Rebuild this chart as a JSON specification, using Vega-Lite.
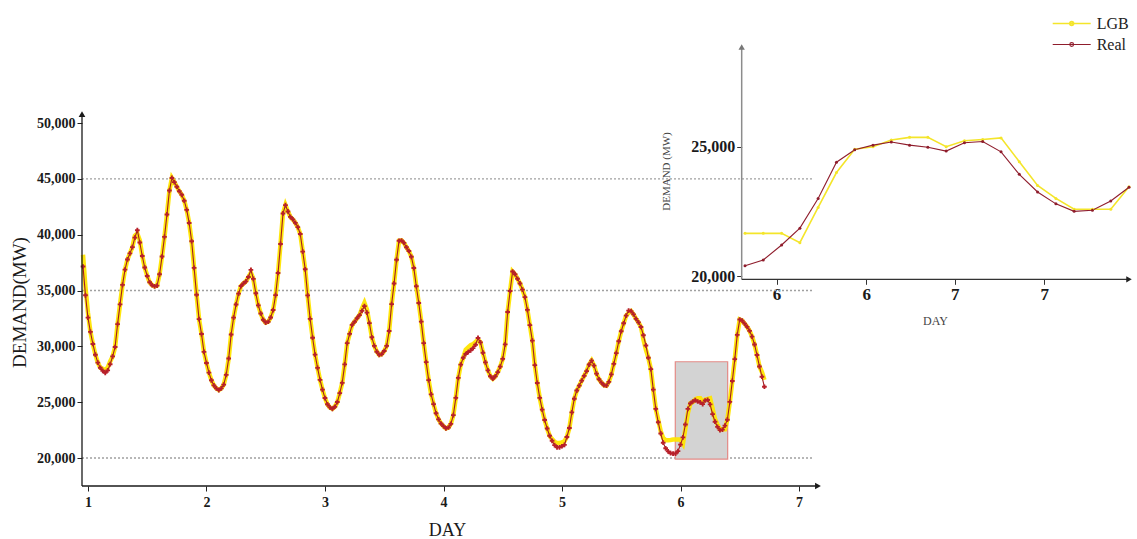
{
"$schema":"https://vega.github.io/schema/vega-lite/v6.json",
"width":1050,"height":444,
"autosize":{"type":"none"},
"padding":{"left":82,"top":42,"right":5,"bottom":53},
"background":"#ffffff",
"config":{"view":{"stroke":null},"font":"Liberation Serif","axis":{"labelFont":"Liberation Serif","titleFont":"Liberation Serif"},"legend":{"labelFont":"Liberation Serif"}},
"data":{"values":[
{"t":0.958,"Real":37150,"LGB":38200},{"t":0.9788,"Real":34570,"LGB":35300},{"t":0.9997,"Real":32570,"LGB":33000},{"t":1.0205,"Real":31300,"LGB":31300},{"t":1.0413,"Real":30210,"LGB":30210},{"t":1.0622,"Real":29250,"LGB":29250},{"t":1.083,"Real":28540,"LGB":28540},{"t":1.1038,"Real":28080,"LGB":28080},{"t":1.1247,"Real":27810,"LGB":28000},{"t":1.1455,"Real":27620,"LGB":27850},{"t":1.1663,"Real":27850,"LGB":28100},{"t":1.1872,"Real":28400,"LGB":28650},
{"t":1.208,"Real":29100,"LGB":29100},{"t":1.2288,"Real":29940,"LGB":29940},{"t":1.2497,"Real":31990,"LGB":31990},{"t":1.2705,"Real":33760,"LGB":33760},{"t":1.2913,"Real":35500,"LGB":35500},{"t":1.3122,"Real":36870,"LGB":36870},{"t":1.333,"Real":37780,"LGB":37780},{"t":1.3538,"Real":38320,"LGB":38320},{"t":1.3747,"Real":38880,"LGB":38880},{"t":1.3955,"Real":39740,"LGB":39900},{"t":1.4163,"Real":40400,"LGB":40100},{"t":1.4372,"Real":39300,"LGB":39500},
{"t":1.458,"Real":38090,"LGB":38090},{"t":1.4788,"Real":37060,"LGB":37060},{"t":1.4997,"Real":36300,"LGB":36300},{"t":1.5205,"Real":35740,"LGB":35740},{"t":1.5413,"Real":35470,"LGB":35470},{"t":1.5622,"Real":35370,"LGB":35370},{"t":1.583,"Real":35440,"LGB":35440},{"t":1.6038,"Real":36450,"LGB":36450},{"t":1.6247,"Real":38040,"LGB":38040},{"t":1.6455,"Real":39800,"LGB":39800},{"t":1.6663,"Real":41810,"LGB":41810},{"t":1.6872,"Real":43950,"LGB":43950},
{"t":1.708,"Real":45080,"LGB":45080},{"t":1.7288,"Real":44710,"LGB":44710},{"t":1.7497,"Real":44290,"LGB":44290},{"t":1.7705,"Real":43890,"LGB":43890},{"t":1.7913,"Real":43570,"LGB":43570},{"t":1.8122,"Real":43040,"LGB":43040},{"t":1.833,"Real":42220,"LGB":42220},{"t":1.8538,"Real":41050,"LGB":41050},{"t":1.8747,"Real":39410,"LGB":39410},{"t":1.8955,"Real":37030,"LGB":37030},{"t":1.9163,"Real":34620,"LGB":34620},{"t":1.9372,"Real":32440,"LGB":32440},
{"t":1.958,"Real":31100,"LGB":31100},{"t":1.9788,"Real":29500,"LGB":29500},{"t":1.9997,"Real":28510,"LGB":28510},{"t":2.0205,"Real":27650,"LGB":27650},{"t":2.0413,"Real":26960,"LGB":26960},{"t":2.0622,"Real":26500,"LGB":26500},{"t":2.083,"Real":26230,"LGB":26230},{"t":2.1038,"Real":26080,"LGB":26080},{"t":2.1247,"Real":26230,"LGB":26230},{"t":2.1455,"Real":26570,"LGB":26570},{"t":2.1663,"Real":27440,"LGB":27440},{"t":2.1872,"Real":28910,"LGB":28910},
{"t":2.208,"Real":31060,"LGB":31060},{"t":2.2288,"Real":32570,"LGB":32570},{"t":2.2497,"Real":33750,"LGB":33750},{"t":2.2705,"Real":34720,"LGB":34720},{"t":2.2913,"Real":35400,"LGB":35400},{"t":2.3122,"Real":35630,"LGB":35630},{"t":2.333,"Real":35820,"LGB":35820},{"t":2.3538,"Real":36210,"LGB":36210},{"t":2.3747,"Real":36850,"LGB":36600},{"t":2.3955,"Real":36040,"LGB":36040},{"t":2.4163,"Real":34750,"LGB":34750},{"t":2.4372,"Real":33670,"LGB":33670},
{"t":2.458,"Real":32940,"LGB":32940},{"t":2.4788,"Real":32380,"LGB":32380},{"t":2.4997,"Real":32120,"LGB":32120},{"t":2.5205,"Real":32200,"LGB":32200},{"t":2.5413,"Real":32580,"LGB":32580},{"t":2.5622,"Real":33250,"LGB":33250},{"t":2.583,"Real":34590,"LGB":34590},{"t":2.6038,"Real":36570,"LGB":36570},{"t":2.6247,"Real":39170,"LGB":39170},{"t":2.6455,"Real":41900,"LGB":41900},{"t":2.6663,"Real":42650,"LGB":42650},{"t":2.6872,"Real":42080,"LGB":42080},
{"t":2.708,"Real":41590,"LGB":41590},{"t":2.7288,"Real":41370,"LGB":41370},{"t":2.7497,"Real":41060,"LGB":41060},{"t":2.7705,"Real":40680,"LGB":40680},{"t":2.7913,"Real":40060,"LGB":40060},{"t":2.8122,"Real":38480,"LGB":38480},{"t":2.833,"Real":36900,"LGB":36900},{"t":2.8538,"Real":34560,"LGB":34560},{"t":2.8747,"Real":32460,"LGB":32460},{"t":2.8955,"Real":30770,"LGB":30770},{"t":2.9163,"Real":29260,"LGB":29260},{"t":2.9372,"Real":28070,"LGB":28070},
{"t":2.958,"Real":27000,"LGB":27000},{"t":2.9788,"Real":26120,"LGB":26120},{"t":2.9997,"Real":25370,"LGB":25370},{"t":3.0205,"Real":24810,"LGB":24810},{"t":3.0413,"Real":24530,"LGB":24530},{"t":3.0622,"Real":24400,"LGB":24400},{"t":3.083,"Real":24590,"LGB":24590},{"t":3.1038,"Real":25010,"LGB":25010},{"t":3.1247,"Real":25810,"LGB":25810},{"t":3.1455,"Real":26730,"LGB":26730},{"t":3.1663,"Real":28380,"LGB":28380},{"t":3.1872,"Real":30290,"LGB":30290},
{"t":3.208,"Real":31120,"LGB":31120},{"t":3.2288,"Real":31920,"LGB":31920},{"t":3.2497,"Real":32200,"LGB":32200},{"t":3.2705,"Real":32520,"LGB":32520},{"t":3.2913,"Real":32790,"LGB":32790},{"t":3.3122,"Real":33180,"LGB":33400},{"t":3.333,"Real":33600,"LGB":33900},{"t":3.3538,"Real":33020,"LGB":33300},{"t":3.3747,"Real":32080,"LGB":32080},{"t":3.3955,"Real":30810,"LGB":30810},{"t":3.4163,"Real":30040,"LGB":30040},{"t":3.4372,"Real":29520,"LGB":29520},
{"t":3.458,"Real":29230,"LGB":29230},{"t":3.4788,"Real":29300,"LGB":29300},{"t":3.4997,"Real":29580,"LGB":29580},{"t":3.5205,"Real":30040,"LGB":30040},{"t":3.5413,"Real":31370,"LGB":31370},{"t":3.5622,"Real":33780,"LGB":33780},{"t":3.583,"Real":35630,"LGB":35630},{"t":3.6038,"Real":37750,"LGB":37750},{"t":3.6247,"Real":39450,"LGB":39450},{"t":3.6455,"Real":39480,"LGB":39480},{"t":3.6663,"Real":39270,"LGB":39270},{"t":3.6872,"Real":38870,"LGB":38870},
{"t":3.708,"Real":38540,"LGB":38540},{"t":3.7288,"Real":38020,"LGB":38020},{"t":3.7497,"Real":37010,"LGB":37010},{"t":3.7705,"Real":35380,"LGB":35380},{"t":3.7913,"Real":33880,"LGB":33880},{"t":3.8122,"Real":32210,"LGB":32210},{"t":3.833,"Real":30290,"LGB":30290},{"t":3.8538,"Real":28590,"LGB":28590},{"t":3.8747,"Real":26970,"LGB":26970},{"t":3.8955,"Real":25700,"LGB":25700},{"t":3.9163,"Real":24820,"LGB":24820},{"t":3.9372,"Real":24010,"LGB":24010},
{"t":3.958,"Real":23460,"LGB":23460},{"t":3.9788,"Real":23090,"LGB":23090},{"t":3.9997,"Real":22850,"LGB":22850},{"t":4.0205,"Real":22650,"LGB":22650},{"t":4.0413,"Real":22730,"LGB":22730},{"t":4.0622,"Real":23060,"LGB":23060},{"t":4.083,"Real":23840,"LGB":23840},{"t":4.1038,"Real":25380,"LGB":25380},{"t":4.1247,"Real":27180,"LGB":27180},{"t":4.1455,"Real":28360,"LGB":28360},{"t":4.1663,"Real":28980,"LGB":28980},{"t":4.1872,"Real":29310,"LGB":29700},
{"t":4.208,"Real":29490,"LGB":29900},{"t":4.2288,"Real":29640,"LGB":30100},{"t":4.2497,"Real":29840,"LGB":30200},{"t":4.2705,"Real":30140,"LGB":30400},{"t":4.2913,"Real":30750,"LGB":30600},{"t":4.3122,"Real":30350,"LGB":30350},{"t":4.333,"Real":29430,"LGB":29430},{"t":4.3538,"Real":28560,"LGB":28560},{"t":4.3747,"Real":27850,"LGB":27850},{"t":4.3955,"Real":27320,"LGB":27320},{"t":4.4163,"Real":27100,"LGB":27100},{"t":4.4372,"Real":27320,"LGB":27320},
{"t":4.458,"Real":27690,"LGB":27690},{"t":4.4788,"Real":28180,"LGB":28180},{"t":4.4997,"Real":28880,"LGB":28880},{"t":4.5205,"Real":30180,"LGB":30180},{"t":4.5413,"Real":33080,"LGB":33080},{"t":4.5622,"Real":34960,"LGB":34960},{"t":4.583,"Real":36700,"LGB":36700},{"t":4.6038,"Real":36460,"LGB":36460},{"t":4.6247,"Real":36050,"LGB":36050},{"t":4.6455,"Real":35630,"LGB":35630},{"t":4.6663,"Real":35080,"LGB":35080},{"t":4.6872,"Real":34410,"LGB":34410},
{"t":4.708,"Real":33260,"LGB":33260},{"t":4.7288,"Real":31900,"LGB":31900},{"t":4.7497,"Real":30510,"LGB":30510},{"t":4.7705,"Real":28320,"LGB":28320},{"t":4.7913,"Real":26720,"LGB":26720},{"t":4.8122,"Real":25390,"LGB":25390},{"t":4.833,"Real":24330,"LGB":24330},{"t":4.8538,"Real":23400,"LGB":23400},{"t":4.8747,"Real":22640,"LGB":22640},{"t":4.8955,"Real":21990,"LGB":21990},{"t":4.9163,"Real":21540,"LGB":21700},{"t":4.9372,"Real":21150,"LGB":21450},
{"t":4.958,"Real":20960,"LGB":21350},{"t":4.9788,"Real":20950,"LGB":21350},{"t":4.9997,"Real":21050,"LGB":21400},{"t":5.0205,"Real":21180,"LGB":21500},{"t":5.0413,"Real":21880,"LGB":21900},{"t":5.0622,"Real":22690,"LGB":22690},{"t":5.083,"Real":24090,"LGB":24090},{"t":5.1038,"Real":25310,"LGB":25310},{"t":5.1247,"Real":26040,"LGB":26040},{"t":5.1455,"Real":26480,"LGB":26480},{"t":5.1663,"Real":26930,"LGB":26930},{"t":5.1872,"Real":27360,"LGB":27360},
{"t":5.208,"Real":27780,"LGB":27780},{"t":5.2288,"Real":28370,"LGB":28370},{"t":5.2497,"Real":28720,"LGB":28720},{"t":5.2705,"Real":28270,"LGB":28270},{"t":5.2913,"Real":27560,"LGB":27560},{"t":5.3122,"Real":27050,"LGB":27050},{"t":5.333,"Real":26750,"LGB":26750},{"t":5.3538,"Real":26520,"LGB":26520},{"t":5.3747,"Real":26480,"LGB":26480},{"t":5.3955,"Real":26820,"LGB":26820},{"t":5.4163,"Real":27490,"LGB":27490},{"t":5.4372,"Real":28430,"LGB":28430},
{"t":5.458,"Real":29390,"LGB":29390},{"t":5.4788,"Real":30450,"LGB":30450},{"t":5.4997,"Real":31350,"LGB":31350},{"t":5.5205,"Real":32070,"LGB":32070},{"t":5.5413,"Real":32750,"LGB":32750},{"t":5.5622,"Real":33200,"LGB":33000},{"t":5.583,"Real":33150,"LGB":33150},{"t":5.6038,"Real":32860,"LGB":32860},{"t":5.6247,"Real":32460,"LGB":32460},{"t":5.6455,"Real":32150,"LGB":32150},{"t":5.6663,"Real":31730,"LGB":31730},{"t":5.6872,"Real":30990,"LGB":30600},
{"t":5.708,"Real":30080,"LGB":29700},{"t":5.7288,"Real":28980,"LGB":28980},{"t":5.7497,"Real":27960,"LGB":27960},{"t":5.7705,"Real":26120,"LGB":26120},{"t":5.7913,"Real":24400,"LGB":24400},{"t":5.8122,"Real":23200,"LGB":23400},{"t":5.833,"Real":22200,"LGB":22400},{"t":5.8538,"Real":21370,"LGB":21800},{"t":5.8747,"Real":20870,"LGB":21600},{"t":5.8955,"Real":20590,"LGB":21600},{"t":5.9163,"Real":20430,"LGB":21620},{"t":5.9372,"Real":20390,"LGB":21650},
{"t":5.958,"Real":20400,"LGB":21650},{"t":5.9788,"Real":20620,"LGB":21650},{"t":5.9997,"Real":21200,"LGB":21650},{"t":6.0205,"Real":21850,"LGB":21290},{"t":6.0413,"Real":23000,"LGB":22650},{"t":6.0622,"Real":24400,"LGB":24000},{"t":6.083,"Real":24880,"LGB":24900},{"t":6.1038,"Real":25060,"LGB":25000},{"t":6.1247,"Real":25180,"LGB":25260},{"t":6.1455,"Real":25060,"LGB":25360},{"t":6.1663,"Real":24980,"LGB":25360},{"t":6.1872,"Real":24830,"LGB":25000},
{"t":6.208,"Real":25150,"LGB":25230},{"t":6.2288,"Real":25200,"LGB":25280},{"t":6.2497,"Real":24800,"LGB":25340},{"t":6.2705,"Real":23930,"LGB":24420},{"t":6.2913,"Real":23250,"LGB":23500},{"t":6.3122,"Real":22790,"LGB":23000},{"t":6.333,"Real":22500,"LGB":22580},{"t":6.3538,"Real":22540,"LGB":22580},{"t":6.3747,"Real":22900,"LGB":22580},{"t":6.3955,"Real":23430,"LGB":23450},{"t":6.4163,"Real":25030,"LGB":25030},{"t":6.4372,"Real":26900,"LGB":26900},
{"t":6.458,"Real":28860,"LGB":28860},{"t":6.4788,"Real":31030,"LGB":31030},{"t":6.4997,"Real":32400,"LGB":32400},{"t":6.5205,"Real":32300,"LGB":32300},{"t":6.5413,"Real":32030,"LGB":32030},{"t":6.5622,"Real":31740,"LGB":31740},{"t":6.583,"Real":31390,"LGB":31390},{"t":6.6038,"Real":30870,"LGB":30870},{"t":6.6247,"Real":30170,"LGB":30170},{"t":6.6455,"Real":29220,"LGB":29220},{"t":6.6663,"Real":28200,"LGB":28200},{"t":6.6872,"Real":27280,"LGB":27700},
{"t":6.708,"Real":26380,"LGB":27000}
]},
"layer":[
{"layer":[
 {"data":{"values":[{"g":20000},{"g":35000},{"g":45000}]},
  "mark":{"type":"rule","color":"#a0a0a0","strokeWidth":1.3,"strokeDash":[2,2]},
  "encoding":{"y":{"field":"g","type":"quantitative","title":"DEMAND(MW)","scale":{"domain":[17493,57254],"nice":false,"zero":false}},
   "x":{"datum":0.9494,"type":"quantitative","title":"DAY","scale":{"domain":[0.9494,9.81],"nice":false,"zero":false}},"x2":{"datum":7.117}}},
 {"data":{"values":[{}]},
  "mark":{"type":"rect","fill":"#d3d3d3","stroke":"#e38a86","strokeWidth":1.2},
  "encoding":{"x":{"datum":5.956,"type":"quantitative","title":"DAY","scale":{"domain":[0.9494,9.81],"nice":false,"zero":false}},"x2":{"datum":6.398},
   "y":{"datum":19900,"type":"quantitative","title":"DEMAND(MW)","scale":{"domain":[17493,57254],"nice":false,"zero":false}},"y2":{"datum":28620}}},
 {"mark":{"type":"line","color":"#ffe500","strokeWidth":4.5,"opacity":0.95},
  "encoding":{"x":{"field":"t","type":"quantitative","title":"DAY","scale":{"domain":[0.9494,9.81],"nice":false,"zero":false}},
   "y":{"field":"LGB","type":"quantitative","title":"DEMAND(MW)","scale":{"domain":[17493,57254],"nice":false,"zero":false}}}},
 {"mark":{"type":"line","color":"#a11c22","strokeWidth":1.1},
  "encoding":{"x":{"field":"t","type":"quantitative","title":"DAY","scale":{"domain":[0.9494,9.81],"nice":false,"zero":false},
     "axis":{"orient":"bottom","values":[1,2,3,4,5,6,7],"labelExpr":"format(datum.value, 'd')","domain":false,"grid":false,"tickSize":5,"tickColor":"#222","labelFontSize":14,"labelFontWeight":700,"labelColor":"#1a1a1a","labelPadding":4,"title":"DAY","titleFontSize":18,"titleFontWeight":"normal","titleColor":"#1a1a1a","titleX":365,"titleY":44,"titleAlign":"center","titleBaseline":"middle"}},
   "y":{"field":"Real","type":"quantitative","title":"DEMAND(MW)","scale":{"domain":[17493,57254],"nice":false,"zero":false},
     "axis":{"orient":"left","values":[20000,25000,30000,35000,40000,45000,50000],"labelExpr":"format(datum.value, ',')","domain":false,"grid":false,"tickSize":5,"tickColor":"#222","labelFontSize":14,"labelFontWeight":700,"labelColor":"#1a1a1a","labelPadding":2,"title":"DEMAND(MW)","titleFontSize":19,"titleFontWeight":"normal","titleColor":"#1a1a1a","titleX":-63,"titleY":260,"titleAngle":-90,"titleAlign":"center","titleBaseline":"middle"}}}},
 {"mark":{"type":"point","shape":"cross","filled":true,"size":22,"color":"#b8202a","opacity":1},
  "encoding":{"x":{"field":"t","type":"quantitative","title":"DAY","scale":{"domain":[0.9494,9.81],"nice":false,"zero":false}},
   "y":{"field":"Real","type":"quantitative","title":"DEMAND(MW)","scale":{"domain":[17493,57254],"nice":false,"zero":false}}}},
 {"data":{"values":[{}]},
  "mark":{"type":"rule","color":"#1a1a1a","strokeWidth":1.3},
  "encoding":{"x":{"datum":0.9494,"type":"quantitative","title":"DAY","scale":{"domain":[0.9494,9.81],"nice":false,"zero":false}},
   "y":{"datum":17493,"type":"quantitative","title":"DEMAND(MW)","scale":{"domain":[17493,57254],"nice":false,"zero":false}},"y2":{"datum":50700}}},
 {"data":{"values":[{}]},
  "mark":{"type":"rule","color":"#1a1a1a","strokeWidth":1.3},
  "encoding":{"x":{"datum":0.9494,"type":"quantitative","title":"DAY","scale":{"domain":[0.9494,9.81],"nice":false,"zero":false}},"x2":{"datum":7.15},
   "y":{"datum":17493,"type":"quantitative","title":"DEMAND(MW)","scale":{"domain":[17493,57254],"nice":false,"zero":false}}}},
 {"data":{"values":[{}]},
  "mark":{"type":"point","shape":"triangle-up","filled":true,"size":45,"color":"#1a1a1a","opacity":1},
  "encoding":{"x":{"datum":0.9494,"type":"quantitative","title":"DAY","scale":{"domain":[0.9494,9.81],"nice":false,"zero":false}},
   "y":{"datum":50800,"type":"quantitative","title":"DEMAND(MW)","scale":{"domain":[17493,57254],"nice":false,"zero":false}}}},
 {"data":{"values":[{}]},
  "mark":{"type":"point","shape":"triangle-right","filled":true,"size":45,"color":"#1a1a1a","opacity":1},
  "encoding":{"x":{"datum":7.16,"type":"quantitative","title":"DAY","scale":{"domain":[0.9494,9.81],"nice":false,"zero":false}},
   "y":{"datum":17493,"type":"quantitative","title":"DEMAND(MW)","scale":{"domain":[17493,57254],"nice":false,"zero":false}}}}
]},
{"layer":[
 {"data":{"values":[{}]},
  "mark":{"type":"rule","color":"#8c8c8c","strokeWidth":1.5},
  "encoding":{"x":{"datum":5.9542,"type":"quantitative","title":"DAY","scale":{"domain":[5.2026,6.3989],"nice":false,"zero":false}},
   "y":{"datum":19872,"type":"quantitative","title":"DEMAND (MW)","scale":{"domain":[11882,29047],"nice":false,"zero":false}},"y2":{"datum":28800}}},
 {"data":{"values":[{}]},
  "mark":{"type":"rule","color":"#333333","strokeWidth":1.3},
  "encoding":{"x":{"datum":5.9542,"type":"quantitative","title":"DAY","scale":{"domain":[5.2026,6.3989],"nice":false,"zero":false}},"x2":{"datum":6.395},
   "y":{"datum":19872,"type":"quantitative","title":"DEMAND (MW)","scale":{"domain":[11882,29047],"nice":false,"zero":false}}}},
 {"data":{"values":[{}]},
  "mark":{"type":"point","shape":"triangle-up","filled":true,"size":40,"color":"#777777","opacity":1},
  "encoding":{"x":{"datum":5.9542,"type":"quantitative","title":"DAY","scale":{"domain":[5.2026,6.3989],"nice":false,"zero":false}},
   "y":{"datum":28850,"type":"quantitative","title":"DEMAND (MW)","scale":{"domain":[11882,29047],"nice":false,"zero":false}}}},
 {"data":{"values":[{}]},
  "mark":{"type":"point","shape":"triangle-right","filled":true,"size":40,"color":"#222222","opacity":1},
  "encoding":{"x":{"datum":6.3955,"type":"quantitative","title":"DAY","scale":{"domain":[5.2026,6.3989],"nice":false,"zero":false}},
   "y":{"datum":19872,"type":"quantitative","title":"DEMAND (MW)","scale":{"domain":[11882,29047],"nice":false,"zero":false}}}},
 {"transform":[{"filter":"datum.t >= 5.95 && datum.t <= 6.4"},{"fold":["LGB","Real"]}],
  "mark":{"type":"line"},
  "encoding":{"x":{"field":"t","type":"quantitative","title":"DAY","scale":{"domain":[5.2026,6.3989],"nice":false,"zero":false},
     "axis":{"orient":"bottom","offset":-206.7,"values":[5.994,6.096,6.197,6.299],"labelExpr":"datum.value < 6.15 ? '6' : '7'","domain":false,"grid":false,"tickSize":5,"tickColor":"#333","labelFontSize":17,"labelFontWeight":700,"labelColor":"#1a1a1a","labelPadding":2,"title":"DAY","titleFontSize":12,"titleFontWeight":"normal","titleColor":"#444","titleX":853,"titleY":41,"titleAlign":"center","titleBaseline":"middle"}},
   "y":{"field":"value","type":"quantitative","title":"DEMAND (MW)","scale":{"domain":[11882,29047],"nice":false,"zero":false},
     "axis":{"orient":"left","offset":-659.7,"values":[20000,25000],"labelExpr":"format(datum.value, ',')","domain":false,"grid":false,"tickSize":5,"tickColor":"#333","labelFontSize":16,"labelFontWeight":700,"labelColor":"#1a1a1a","labelPadding":2,"title":"DEMAND (MW)","titleFontSize":11,"titleFontWeight":"normal","titleColor":"#444","titleX":-75,"titleY":129,"titleAngle":-90,"titleAlign":"center","titleBaseline":"middle"}},
   "color":{"field":"key","type":"nominal","scale":{"domain":["LGB","Real"],"range":["#f4e52a","#8f1d2c"]},
     "legend":{"title":null,"orient":"none","legendX":969.7,"legendY":-29,"padding":0,"offset":0,"labelFontSize":16,"labelColor":"#222","labelOffset":5,"clipHeight":21,"rowPadding":0,"symbolType":"M-1,0L1,0M-0.1,0A0.1,0.1,0,1,1,0.1,0A0.1,0.1,0,1,1,-0.1,0","symbolSize":1444,"symbolStrokeWidth":2}},
   "strokeWidth":{"field":"key","type":"ordinal","scale":{"domain":["LGB","Real"],"range":[1.6,1.1]},"legend":null}}},
 {"transform":[{"filter":"datum.t >= 5.95 && datum.t <= 6.4"},{"fold":["LGB","Real"]}],
  "mark":{"type":"point","filled":true,"size":9,"opacity":1},
  "encoding":{"x":{"field":"t","type":"quantitative","title":"DAY","scale":{"domain":[5.2026,6.3989],"nice":false,"zero":false}},
   "y":{"field":"value","type":"quantitative","title":"DEMAND (MW)","scale":{"domain":[11882,29047],"nice":false,"zero":false}},
   "color":{"condition":{"test":"datum.key == 'LGB'","value":"#f4e52a"},"value":"#8f1d2c"}}}
]}
],
"resolve":{"scale":{"x":"independent","y":"independent"}}
}
